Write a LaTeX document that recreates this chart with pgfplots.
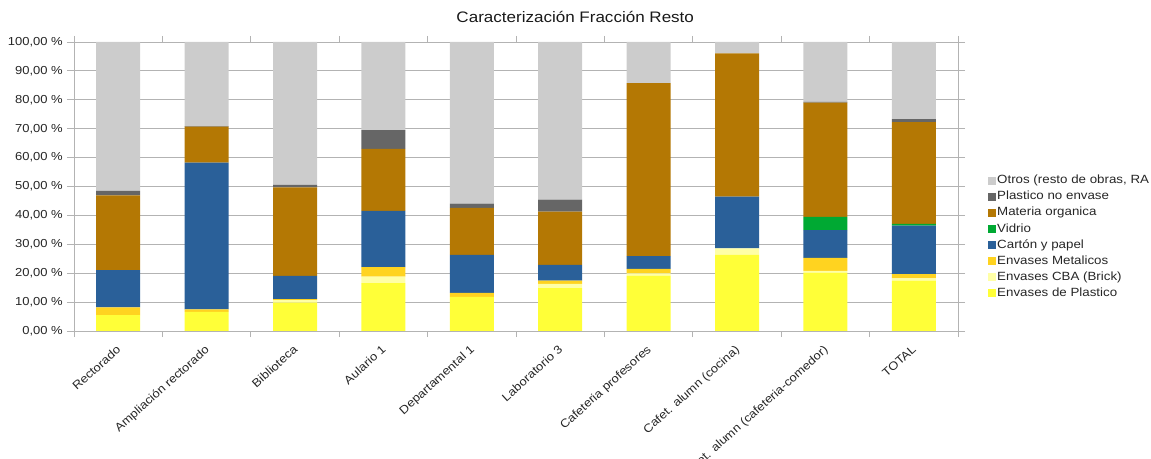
\documentclass[border=0pt]{standalone}
\usepackage{pgfplots}
\pgfplotsset{compat=1.18}
\usepackage{pgfplotstable}
\usepackage{fontspec}
\setmainfont{Liberation Sans}[FakeStretch=1.12]
\definecolor{cPlast}{HTML}{FFFF38}
\definecolor{cCBA}{HTML}{FFFFA6}
\definecolor{cMetal}{HTML}{FFD320}
\definecolor{cCarton}{HTML}{2A6099}
\definecolor{cVidrio}{HTML}{00A933}
\definecolor{cMO}{HTML}{B47804}
\definecolor{cPNE}{HTML}{666666}
\definecolor{cOtros}{HTML}{CCCCCC}
\definecolor{cGrid}{HTML}{B3B3B3}
\pgfplotstableread{
x plast cba metal carton vidrio mo pne otros
0 5.5 0 2.7 12.9 0 25.8 1.6 51.5
1 6.6 0 0.9 50.8 0 12.4 0.2 29.1
2 9.8 0.9 0.3 8.1 0 30.6 0.9 49.4
3 16.6 2.2 3.3 19.5 0 21.4 6.5 30.5
4 11.8 0 1.4 13.1 0 16.3 1.5 55.9
5 14.8 1.5 1.1 5.5 0 18.4 4.2 54.5
6 19.2 0.7 1.6 4.4 0 59.9 0 14.2
7 26.3 2.3 0 17.9 0 49.6 0 3.9
8 20.2 0.6 4.5 9.6 4.6 39.5 0.3 20.7
9 17.4 0.8 1.5 16.8 0.6 35.2 1.0 26.7
}\datatable
\begin{document}
\begin{tikzpicture}
\useasboundingbox (0,0) rectangle (1151bp,459bp);
\begin{axis}[
  at={(74bp,128bp)}, anchor=south west,
  scale only axis, width=884bp, height=289bp,
  ybar stacked, bar width=44bp,
  xmin=-0.5, xmax=9.5, ymin=0, ymax=100,
  xtick={0,...,9},
  xticklabels={Rectorado,Ampliación rectorado,Biblioteca,Aulario 1,Departamental 1,Laboratorio 3,Cafeteria profesores,Cafet. alumn (cocina),Cafet. alumn (cafeteria-comedor),TOTAL},
  minor xtick={-0.5,0.5,...,9.5},
  ytick={0,10,...,100},
  yticklabel={\pgfmathprintnumber[fixed,fixed zerofill,precision=2,use comma]{\tick}\ \%},
  /pgf/number format/assume math mode=true,
  tick align=outside,
  x tick style={draw=none},
  minor x tick style={draw=cGrid, line width=0.8pt},
  minor tick length=6bp,
  y tick style={draw=cGrid, line width=0.8pt},
  major tick length=7bp,
  ymajorgrids, grid style={draw=cGrid, line width=0.8pt},
  axis line style={draw=cGrid, line width=0.8pt},
  tick label style={font=\fontsize{11.6bp}{13bp}\selectfont, text=black!85},
  yticklabel style={inner sep=0pt, xshift=-4bp},
  xticklabel style={rotate=42, anchor=north east, inner sep=0pt, yshift=-3bp, xshift=-6bp},
  title={Caracterización Fracción Resto},
  title style={font=\fontsize{15.2bp}{17bp}\selectfont, at={(0.567,1)}, anchor=base, yshift=14bp, text=black!90},
  reverse legend,
  legend cell align=left,
  legend style={draw=none, fill=none, at={(1.03,0.325)}, anchor=west,
    font=\fontsize{11.9bp}{13bp}\selectfont, text=black!85,
    row sep=1.1bp, nodes={inner sep=1.5bp, text height=9bp, text depth=3bp}},
  legend image code/.code={\fill[#1,draw=none] (0bp,-4bp) rectangle (8bp,4bp);},
  every axis plot/.append style={draw=none},
]
\addplot[fill=cPlast] table[x=x,y=plast]{\datatable};
\addplot[fill=cCBA] table[x=x,y=cba]{\datatable};
\addplot[fill=cMetal] table[x=x,y=metal]{\datatable};
\addplot[fill=cCarton] table[x=x,y=carton]{\datatable};
\addplot[fill=cVidrio] table[x=x,y=vidrio]{\datatable};
\addplot[fill=cMO] table[x=x,y=mo]{\datatable};
\addplot[fill=cPNE] table[x=x,y=pne]{\datatable};
\addplot[fill=cOtros] table[x=x,y=otros]{\datatable};
\legend{Envases de Plastico,Envases CBA (Brick),Envases Metalicos,Cartón y papel,Vidrio,Materia organica,Plastico no envase,{Otros (resto de obras, RA}}
\end{axis}
\end{tikzpicture}
\end{document}
